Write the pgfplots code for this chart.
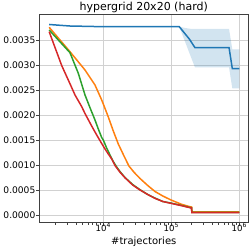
\documentclass[border=0pt]{standalone}
\usepackage{fontspec}
\setmainfont{DejaVu Sans}
\usepackage{pgfplots}
\pgfplotsset{compat=1.18}
\definecolor{tabblue}{HTML}{1F77B4}
\definecolor{taborange}{HTML}{FF7F0E}
\definecolor{tabgreen}{HTML}{2CA02C}
\definecolor{tabred}{HTML}{D62728}
\begin{document}
\begin{tikzpicture}
\begin{axis}[
  scale only axis, width=208.5pt, height=208.7pt,
  xmode=log, xmin=1153, xmax=1.343e6,
  ymin=-0.000154, ymax=0.00402,
  xtick={1e4,1e5,1e6},
  xticklabels={10\textsuperscript{4},10\textsuperscript{5},10\textsuperscript{6}},
  minor xtick={2000,3000,4000,5000,6000,7000,8000,9000,20000,30000,40000,50000,60000,70000,80000,90000,200000,300000,400000,500000,600000,700000,800000,900000},
  ytick={0,0.0005,0.001,0.0015,0.002,0.0025,0.003,0.0035},
  yticklabels={0.0000,0.0005,0.0010,0.0015,0.0020,0.0025,0.0030,0.0035},
  scaled y ticks=false,
  grid=major, major grid style={color=black!18, line width=0.7pt},
  axis line style={black!75, line width=0.7pt},
  every tick/.style={black!75, line width=0.7pt},
  tick align=outside, tick pos=left,
  major tick length=3.5pt, minor tick length=2pt,
  yticklabel style={font=\fontsize{9.1}{11}\selectfont, inner sep=0pt, xshift=-0.5pt},
  xticklabel style={font=\fontsize{8.6}{10}\selectfont, inner sep=0pt, yshift=3.5pt},
  title={hypergrid 20x20 (hard)},
  every axis title shift=0pt,
  title style={font=\fontsize{11}{13}\selectfont, at={(axis description cs:0.5,1)}, anchor=base, yshift=3pt},
  xlabel={\#trajectories},
  xlabel style={font=\fontsize{10}{12}\selectfont, at={(axis description cs:0.5,0)}, anchor=base, yshift=-21.8pt},
  clip=true,
]
\addplot[fill=tabblue, fill opacity=0.2, draw=none] coordinates {
(131000,0.003766) (160000,0.00374) (200000,0.00372) (707000,0.00372) (790000,0.00331) (1000000,0.00331)
(1000000,0.00253) (790000,0.00253) (707000,0.00295) (223000,0.00295) (131000,0.003766)} -- cycle;
\addplot[tabblue, line width=1.5pt] coordinates {
(1600,0.00381) (3200,0.00378) (10000,0.003766) (131000,0.003766) (184000,0.00352) (223000,0.003346) (707000,0.003346) (790000,0.002926) (1000000,0.002926)};
\addplot[taborange, line width=1.5pt] coordinates {
(1600,0.003754) (3236,0.003266) (5383,0.0029) (7551,0.0026) (9470,0.0023) (10000,0.00222) (11850,0.00196) (14030,0.00168) (16620,0.00142) (19680,0.00121) (23800,0.00098) (28500,0.00085) (34700,0.00073) (45000,0.00059) (57600,0.00047) (75000,0.00038) (99100,0.0003) (142000,0.000213) (188000,0.000166) (199000,0.00016) (200500,0.00006) (1000000,0.00006)};
\addplot[tabgreen, line width=1.5pt] coordinates {
(1600,0.0037) (3236,0.003246) (4300,0.00283) (5383,0.0024) (6400,0.00214) (7550,0.0019) (8500,0.00171) (9470,0.00155) (10000,0.0015) (11200,0.00134) (12550,0.0012) (14000,0.00107) (15740,0.00096) (17800,0.00086) (20850,0.00075) (27000,0.00061) (34700,0.000505) (45000,0.00041) (57600,0.000338) (75000,0.00027) (99100,0.000238) (142000,0.000191) (188000,0.000151) (199000,0.000145) (200500,0.00005) (1000000,0.00005)};
\addplot[tabred, line width=1.5pt] coordinates {
(1600,0.003666) (2443,0.00299) (3200,0.00264) (3838,0.0024) (4800,0.00217) (5380,0.00203) (6745,0.00178) (8000,0.0016) (9470,0.00143) (10600,0.00132) (11850,0.00122) (13300,0.00112) (14860,0.00099) (17500,0.00086) (20850,0.000745) (27000,0.0006) (34700,0.0005) (45000,0.00041) (57600,0.000333) (75000,0.00027) (99100,0.000233) (142000,0.000186) (188000,0.000146) (199000,0.00014) (200500,0.000045) (1000000,0.000045)};
\end{axis}
\pgfresetboundingbox
\path[use as bounding box] ([shift={(-39.5pt,-28.3pt)}]current axis.south west) rectangle ([shift={(4pt,14pt)}]current axis.north east);
\end{tikzpicture}
\end{document}
